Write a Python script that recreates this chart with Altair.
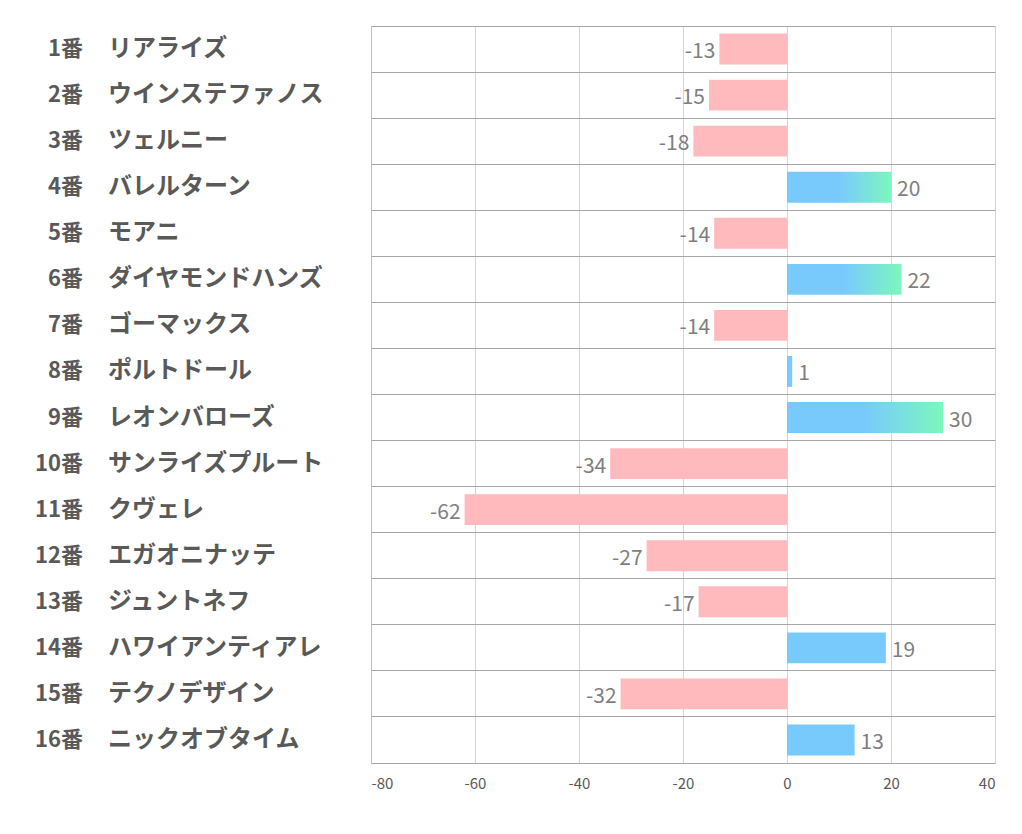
import altair as alt
import pandas as pd

numbers = ["1番", "2番", "3番", "4番", "5番", "6番", "7番", "8番",
           "9番", "10番", "11番", "12番", "13番", "14番", "15番", "16番"]
names = ["リアライズ", "ウインステファノス", "ツェルニー", "バレルターン", "モアニ",
         "ダイヤモンドハンズ", "ゴーマックス", "ポルトドール", "レオンバローズ",
         "サンライズプルート", "クヴェレ", "エガオニナッテ", "ジュントネフ",
         "ハワイアンティアレ", "テクノデザイン", "ニックオブタイム"]
values = [-13, -15, -18, 20, -14, 22, -14, 1, 30, -34, -62, -27, -17, 19, -32, 13]
x_ticks = [-80, -60, -40, -20, 0, 20, 40]

df = pd.DataFrame({"num": numbers, "name": names, "value": values})
df["row"] = list(range(len(df)))
df["kind"] = ["neg" if v < 0 else ("grad" if v >= 20 else "pos") for v in values]
df["label"] = df["value"].astype(str)

PINK = "#FFBABD"
BLUE = "#79CAFC"
GREEN = "#7CF7BC"
FONT = "Noto Sans CJK JP"

W, H = 624, 737

yscale = alt.Scale(domain=list(range(16)), paddingInner=0, paddingOuter=0)
xscale = alt.Scale(domain=[-80, 40], nice=False, zero=False)

base = alt.Chart(df)

y_enc = alt.Y("row:O", scale=yscale,
              axis=alt.Axis(labels=False, ticks=False, title=None, domain=True,
                            domainColor="#BFBFBF", grid=True, gridColor="#A6A6A6",
                            gridWidth=1, bandPosition=0))

x_enc = alt.X("value:Q", scale=xscale,
              axis=alt.Axis(values=x_ticks, title=None, ticks=False,
                            labelExpr="'' + datum.value",
                            grid=True, gridColor="#D4D4D4", domainColor="#A6A6A6",
                            labelFont=FONT, labelFontSize=15, labelColor="#595959",
                            labelPadding=13))

def bars(kind, color):
    return base.transform_filter(alt.datum.kind == kind).mark_bar(
        color=color, height=alt.RelativeBandSize(0.67)).encode(
        x=x_enc, x2=alt.datum(0), y=y_enc)

neg_bars = bars("neg", PINK)
pos_bars = bars("pos", BLUE)
grad_bars = bars("grad", alt.Gradient(
    gradient="linear", x1=0, x2=1, y1=0, y2=0,
    stops=[alt.GradientStop(offset=0, color=BLUE),
           alt.GradientStop(offset=0.5, color=BLUE),
           alt.GradientStop(offset=1, color=GREEN)]))

neg_text = base.transform_filter(alt.datum.value < 0).mark_text(
    align="right", baseline="middle", dx=-4, dy=3, font=FONT, fontSize=21,
    color="#7F7F7F").encode(x="value:Q", y=alt.Y("row:O", scale=yscale), text="label:N")
pos_text = base.transform_filter(alt.datum.value >= 0).mark_text(
    align="left", baseline="middle", dx=6, dy=3, font=FONT, fontSize=21,
    color="#7F7F7F").encode(x="value:Q", y=alt.Y("row:O", scale=yscale), text="label:N")

num_text = base.mark_text(align="right", baseline="middle", font=FONT, fontSize=22,
                          fontWeight="bold", color="#595959").encode(
    x=alt.value(-288), y=alt.Y("row:O", scale=yscale), text="num:N")
name_text = base.mark_text(align="left", baseline="middle", font=FONT, fontSize=24,
                           fontWeight="bold", color="#595959").encode(
    x=alt.value(-263), y=alt.Y("row:O", scale=yscale), text="name:N")

chart = alt.layer(neg_bars, pos_bars, grad_bars, neg_text, pos_text, num_text, name_text).properties(
    width=W, height=H,
    autosize=alt.AutoSizeParams(type="none"),
    padding={"left": 363, "top": 18, "right": 19, "bottom": 55},
).configure_view(stroke=None).configure(background="white")

chart.save("out.html", embed_options={"renderer": "svg", "actions": False})
